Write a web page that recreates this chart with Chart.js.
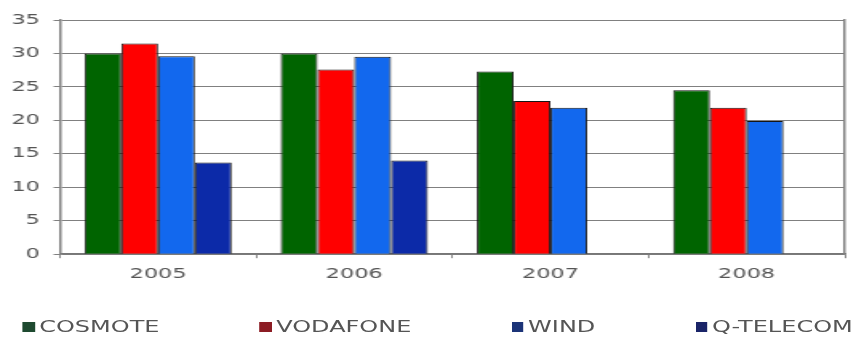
<!DOCTYPE html>
<html><head><meta charset="utf-8">
<script src="https://cdn.jsdelivr.net/npm/chart.js@4"></script>
<style>
html,body{margin:0;padding:0;background:#fff;overflow:hidden;}
#wrap{position:absolute;left:0;top:0;width:535px;height:338px;transform:scaleX(1.6);transform-origin:0 0;}
#c{position:absolute;left:0;top:0;}
#legend{position:absolute;left:14px;right:2px;top:318px;height:18px;display:flex;justify-content:space-between;align-items:center;font:15px "DejaVu Sans";color:#555;}
.item{display:flex;align-items:center;white-space:nowrap;}
.box{width:7.5px;height:10px;margin-right:3px;}
</style></head>
<body><div id="wrap"><canvas id="c" width="535" height="338"></canvas><div id="legend"></div></div>
<script>
const categories = ['2005', '2006', '2007', '2008'];
const seriesNames = ['COSMOTE', 'VODAFONE', 'WIND', 'Q-TELECOM'];
const cosmote = [30.0, 30.0, 27.3, 24.5];
const vodafone = [31.5, 27.6, 22.9, 21.9];
const wind = [29.6, 29.5, 21.9, 19.9];
const qtelecom = [13.7, 14.0, null, null];
const yTicks = [0, 5, 10, 15, 20, 25, 30, 35];

const barColors = ['#006400', '#ff0000', '#1268ee', '#0c2aa8'];
const legendColors = ['#1e4a30', '#8c1c24', '#1c3478', '#1a2468'];
const seriesValues = [cosmote, vodafone, wind, qtelecom];

const datasets = seriesNames.map((name, i) => ({
  label: name,
  data: seriesValues[i],
  backgroundColor: barColors[i],
  borderColor: '#151515',
  borderWidth: 1
}));

const font = {family: 'DejaVu Sans', size: 14};

new Chart(document.getElementById('c'), {
  type: 'bar',
  data: {labels: categories, datasets: datasets},
  options: {
    responsive: false,
    animation: false,
    devicePixelRatio: 1,
    layout: {padding: {left: 6.5, right: 7, top: 20, bottom: 47}},
    plugins: {legend: {display: false}, tooltip: {enabled: false}},
    datasets: {bar: {categoryPercentage: 0.75, barPercentage: 1}},
    scales: {
      x: {
        grid: {offset: true, drawOnChartArea: false, drawTicks: true, tickLength: 4, color: '#888'},
        border: {color: '#777', width: 1.5},
        ticks: {font: font, color: '#555', padding: 8}
      },
      y: {
        min: 0, max: 35,
        afterBuildTicks: axis => { axis.ticks = yTicks.map(v => ({value: v})); },
        afterFit: axis => { axis.width = 31; },
        grid: {color: '#808080', tickLength: 4},
        border: {color: '#808080', width: 1.5},
        ticks: {font: font, color: '#555', padding: 8.5}
      },
      y2: {
        position: 'right', min: 0, max: 35,
        grid: {drawOnChartArea: false, drawTicks: false},
        ticks: {display: false},
        border: {color: '#808080', width: 1.5}
      }
    }
  }
});

const legend = document.getElementById('legend');
seriesNames.forEach((name, i) => {
  const item = document.createElement('div');
  item.className = 'item';
  const box = document.createElement('span');
  box.className = 'box';
  box.style.background = legendColors[i];
  const txt = document.createElement('span');
  txt.textContent = name;
  item.appendChild(box);
  item.appendChild(txt);
  legend.appendChild(item);
});
</script>
</body></html>
